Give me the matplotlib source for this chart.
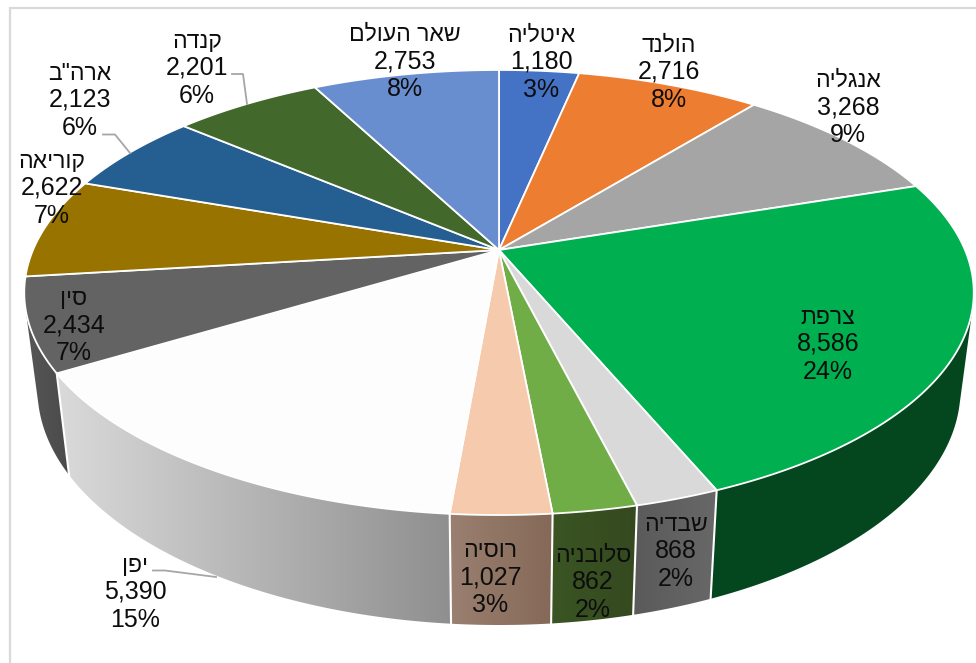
import numpy as np
import matplotlib
matplotlib.use("Agg")
import matplotlib.pyplot as plt
from matplotlib.colors import to_rgb
from matplotlib.patches import Polygon

# ---- data (names in logical Hebrew order) ----
countries = ["איטליה", "הולנד", "אנגליה", "צרפת", "שבדיה", "סלובניה", "רוסיה",
             "יפן", "סין", "קוריאה", 'ארה"ב', "קנדה", "שאר העולם"]
values = [1180, 2716, 3268, 8586, 868, 862, 1027, 5390, 2434, 2622, 2123, 2201, 2753]

# ---- styles ----
top_colors = ["#4472C4", "#ED7D31", "#A5A5A5", "#00B050", "#D9D9D9", "#70AD47", "#F6CAAC",
              "#FDFDFD", "#636363", "#997300", "#255E91", "#43682B", "#698ED0"]
wall_colors = {3: ("#04471F", "#04471F"), 4: ("#5A5A5A", "#686868"), 5: ("#3A5523", "#35491F"),
               6: ("#9A8070", "#856858"), 7: ("#DADADA", "#8F8F8F"), 8: ("#575757", "#4A4A4A")}
label_pos = [(541, 60), (669, 70), (848, 105), (828, 342), (676, 549), (593, 580), (490, 575),
             (135, 590), (74, 323), (52, 186), (80, 98), (197, 66), (405, 59)]
leaders = [([232, 243, 247], [74, 74, 104]),
           ([103, 115, 130], [134.5, 134.5, 153]),
           ([153, 165, 216], [570.5, 570.5, 577])]
CX, CY, A, B, K = 499, 250, 466, 214.4, 0.191
CY2, A2, B2 = 344.4, 453, 227

plt.rcParams["font.family"] = ["Liberation Sans", "DejaVu Sans"]
fig = plt.figure(figsize=(9.76, 6.63), dpi=100, facecolor="white")
ax = fig.add_axes([0, 0, 1, 1])


def rim(theta, cy, a, b):
    u, v = np.sin(theta), -np.cos(theta)
    d = 1 - K * v
    return CX + a * u / d, cy + b * v / d


def hull(points):
    pts = sorted(set(map(tuple, points)))

    def half(seq):
        out = []
        for p in seq:
            while len(out) > 1 and ((out[-1][0] - out[-2][0]) * (p[1] - out[-2][1])
                                    - (out[-1][1] - out[-2][1]) * (p[0] - out[-2][0])) <= 0:
                out.pop()
            out.append(p)
        return out[:-1]
    return np.array(half(pts) + half(pts[::-1]))


vals = np.array(values, dtype=float)
edges = np.concatenate([[0], np.cumsum(vals)]) / vals.sum() * 2 * np.pi

# frame
ax.plot([10, 10, 976], [663, 8, 8], color="#D9D9D9", lw=1.6, solid_joinstyle="miter", zorder=0)

# side walls: horizontal gradient image clipped to the wall outline
for i, (c0, c1) in wall_colors.items():
    th = np.linspace(edges[i], edges[i + 1], 200)
    xt, yt = rim(th, CY, A, B)
    xb, yb = rim(th, CY2, A2, B2)
    poly = hull(np.column_stack([np.r_[xt, xb], np.r_[yt, yb]]))
    f = np.linspace(0, 1, 256)[None, :, None]
    grad = np.array(to_rgb(c0))[None, None, :] * (1 - f) + np.array(to_rgb(c1))[None, None, :] * f
    x0, x1, y0, y1 = poly[:, 0].min(), poly[:, 0].max(), poly[:, 1].min(), poly[:, 1].max()
    patch = Polygon(poly, closed=True, transform=ax.transData, facecolor="none", edgecolor="none")
    ax.add_patch(patch)
    im = ax.imshow(grad, extent=(x0, x1, y1 + 1, y0 - 1), aspect="auto", zorder=2,
                   interpolation="bilinear")
    im.set_clip_path(patch)

# white separators on the front of the wall
for i in range(4, 9):
    xt, yt = rim(edges[i], CY, A, B)
    xb, yb = rim(edges[i], CY2, A2, B2)
    ax.plot([xt, xb], [yt, yb], color="white", lw=1.5, zorder=3)

# top face
for i, col in enumerate(top_colors):
    th = np.linspace(edges[i], edges[i + 1], 120)
    x, y = rim(th, CY, A, B)
    pts = np.column_stack([np.r_[CX, x], np.r_[CY, y]])
    ax.add_patch(Polygon(pts, closed=True, facecolor=col, edgecolor="white", lw=1.3,
                         joinstyle="miter", zorder=4))

# leaders
for lx, ly in leaders:
    ax.plot(lx, ly, color="#A6A6A6", lw=1.3, zorder=5)

# labels (matplotlib has no bidi: Hebrew is laid out in visual order)
for name, val, (lx, ly) in zip(countries, values, label_pos):
    pct = round(val / vals.sum() * 100)
    ax.text(lx, ly - 18, name[::-1], ha="center", va="baseline", fontsize=16.6,
            color="#0D0D0D", zorder=6)
    ax.text(lx, ly + 9, f"{val:,}", ha="center", va="baseline", fontsize=18,
            color="#0D0D0D", zorder=6)
    ax.text(lx, ly + 37, f"{pct}%", ha="center", va="baseline", fontsize=18,
            color="#0D0D0D", zorder=6)

ax.set_xlim(0, 976)
ax.set_ylim(663, 0)
ax.axis("off")
fig.savefig("out.png", dpi=100)
